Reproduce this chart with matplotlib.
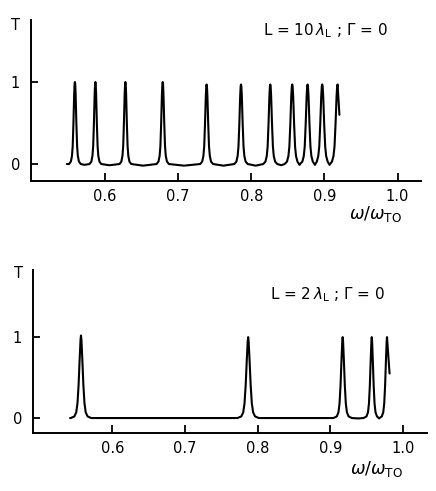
import numpy as np
import matplotlib
matplotlib.use("Agg")
import matplotlib.pyplot as plt

plt.rcParams['font.family'] = ['DejaVu Sans']
plt.rcParams['mathtext.fontset'] = 'dejavusans'

# ---------------- data ----------------
x_ticks = [0.6, 0.7, 0.8, 0.9, 1.0]
x_tick_labels = ["0.6", "0.7", "0.8", "0.9", "1.0"]
y_ticks = [0, 1]
y_tick_labels = ["0", "1"]

# top panel: L = 10 lambda_L
top_start = [0.548, 0.0]
top_peaks = [0.559, 0.587, 0.628, 0.679, 0.739, 0.786, 0.826, 0.856, 0.877, 0.897, 0.918]
top_peak_T = [1.0, 1.0, 1.0, 1.0, 0.97, 0.97, 0.97, 0.97, 0.97, 0.97, 0.97]
top_widths = [1.0, 1.0, 1.0, 1.05, 1.1, 1.15, 1.2, 1.3, 1.3, 1.35, 1.4]
top_valleys = [0.572, 0.606, 0.652, 0.708, 0.762, 0.806, 0.841, 0.866, 0.887, 0.907]
top_valley_T = [-0.01, -0.015, -0.02, -0.02, -0.02, -0.02, -0.015, -0.01, -0.01, -0.01]
top_end = [0.9205, 0.6]
top_profile_dw = [-0.008, -0.0055, -0.004, -0.003, -0.002, -0.001, -0.0004, 0.0,
                  0.0004, 0.001, 0.002, 0.003, 0.004, 0.0055, 0.008]
top_profile_T = [0.0, 0.03, 0.1, 0.22, 0.5, 0.85, 0.98, 1.0,
                 0.98, 0.85, 0.5, 0.22, 0.1, 0.03, 0.0]

# bottom panel: L = 2 lambda_L
bot_start = [0.542, 0.0]
bot_peaks = [0.557, 0.787, 0.917, 0.957, 0.978]
bot_peak_T = [1.02, 1.0, 1.0, 1.0, 1.0]
bot_widths = [1.0, 1.05, 0.9, 0.8, 0.8]
bot_valleys = [0.67, 0.86, 0.938, 0.967]
bot_valley_T = [0.0, 0.0, -0.005, -0.005]
bot_end = [0.9815, 0.55]
bot_profile_dw = [-0.014, -0.009, -0.0065, -0.0048, -0.0033, -0.0018, -0.0006, 0.0,
                  0.0006, 0.0018, 0.0033, 0.0048, 0.0065, 0.009, 0.014]
bot_profile_T = [0.0, 0.02, 0.07, 0.18, 0.4, 0.72, 0.95, 1.0,
                 0.95, 0.72, 0.4, 0.18, 0.07, 0.02, 0.0]


def build_curve(start, peaks, peak_T, widths, valleys, valley_T, end, dw, tv):
    xs, ys = [start[0]], [start[1]]
    for i, (p, h, w) in enumerate(zip(peaks, peak_T, widths)):
        lo = xs[-1]
        hi = valleys[i] if i < len(valleys) else end[0]
        last = i == len(peaks) - 1
        for d, t in zip(dw, tv):
            x = p + d * w
            if x <= lo or x >= hi:
                continue
            if last and d > 0:
                continue
            xs.append(x)
            ys.append(t * h)
        if i < len(valleys):
            xs.append(valleys[i])
            ys.append(valley_T[i])
    xs.append(end[0])
    ys.append(end[1])
    return xs, ys


W, H = 436, 491
fig = plt.figure(figsize=(W / 100, H / 100), dpi=100)


def make_axes(left, right, top, bottom, xlim, ylim):
    ax = fig.add_axes([left / W, 1 - bottom / H, (right - left) / W, (bottom - top) / H])
    ax.set_xlim(*xlim)
    ax.set_ylim(*ylim)
    for s in ['top', 'right']:
        ax.spines[s].set_visible(False)
    for s in ['left', 'bottom']:
        ax.spines[s].set_linewidth(1.4)
    ax.set_xticks(x_ticks)
    ax.set_xticklabels(x_tick_labels)
    ax.set_yticks(y_ticks)
    ax.set_yticklabels(y_tick_labels)
    ax.tick_params(axis='x', direction='in', length=6, width=1.3, pad=6, labelsize=10.5)
    ax.tick_params(axis='y', direction='in', length=5, width=1.3, pad=8, labelsize=10.5)
    return ax


# top panel
ax1 = make_axes(31, 421, 20, 181, (0.499, 1.032), (-0.207, 1.756))
x1, y1 = build_curve(top_start, top_peaks, top_peak_T, top_widths, top_valleys, top_valley_T,
                     top_end, top_profile_dw, top_profile_T)
ax1.plot(x1, y1, color='black', lw=1.5, solid_joinstyle='round', solid_capstyle='round')

# bottom panel
ax2 = make_axes(33, 427, 270, 433, (0.491, 1.033), (-0.185, 1.83))
x2, y2 = build_curve(bot_start, bot_peaks, bot_peak_T, bot_widths, bot_valleys, bot_valley_T,
                     bot_end, bot_profile_dw, bot_profile_T)
ax2.plot(x2, y2, color='black', lw=1.5, solid_joinstyle='round', solid_capstyle='round')

# texts
fig.text(15 / W, 1 - 26 / H, "T", ha='center', va='center', fontsize=10.5)
fig.text(18 / W, 1 - 273 / H, "T", ha='center', va='center', fontsize=10.5)
fig.text(325 / W, 1 - 31 / H, r"L = 10$\,\lambda_{\rm L}$ ; $\Gamma$ = 0",
         ha='center', va='center', fontsize=11)
fig.text(327 / W, 1 - 295 / H, r"L = 2$\,\lambda_{\rm L}$ ; $\Gamma$ = 0",
         ha='center', va='center', fontsize=11)
fig.text(376 / W, 1 - 214 / H, r"$\omega/\omega_{\rm TO}$", ha='center', va='center', fontsize=12.5)
fig.text(377 / W, 1 - 469 / H, r"$\omega/\omega_{\rm TO}$", ha='center', va='center', fontsize=12.5)

fig.savefig("out.png", dpi=100, facecolor='white')
